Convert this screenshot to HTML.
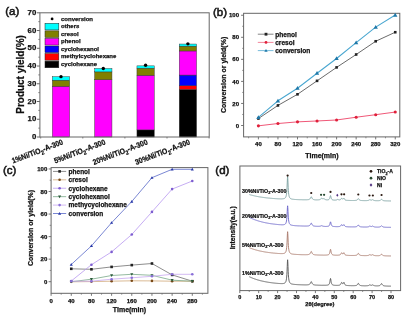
<!DOCTYPE html>
<html><head><meta charset="utf-8"><style>
html,body{margin:0;padding:0;background:#fff;}
svg{display:block;font-family:"Liberation Sans", sans-serif;filter:blur(0.4px);}
text{stroke:#111;stroke-width:0.25px;}
</style></head><body>
<svg width="408" height="317" viewBox="0 0 408 317">
<rect width="408" height="317" fill="#fff"/>
<text x="5.20" y="15.40" font-size="11.5" font-weight="normal" text-anchor="start" fill="#222" style="stroke-width:0.55px">(a)</text>
<rect x="52.35" y="86.26" width="17.30" height="50.74" fill="#f0f" stroke="#333" stroke-width="0.45"/>
<rect x="52.35" y="80.22" width="17.30" height="6.03" fill="#808000" stroke="#333" stroke-width="0.45"/>
<rect x="52.35" y="76.67" width="17.30" height="3.55" fill="#0ff" stroke="#333" stroke-width="0.45"/>
<circle cx="61.00" cy="76.67" r="1.7" fill="#000"/>
<rect x="94.65" y="79.69" width="17.30" height="57.31" fill="#f0f" stroke="#333" stroke-width="0.45"/>
<rect x="94.65" y="71.88" width="17.30" height="7.81" fill="#808000" stroke="#333" stroke-width="0.45"/>
<rect x="94.65" y="68.51" width="17.30" height="3.37" fill="#0ff" stroke="#333" stroke-width="0.45"/>
<circle cx="103.30" cy="68.51" r="1.7" fill="#000"/>
<rect x="136.95" y="129.90" width="17.30" height="7.10" fill="#000" stroke="#333" stroke-width="0.45"/>
<rect x="136.95" y="75.25" width="17.30" height="54.65" fill="#f0f" stroke="#333" stroke-width="0.45"/>
<rect x="136.95" y="68.16" width="17.30" height="7.10" fill="#808000" stroke="#333" stroke-width="0.45"/>
<rect x="136.95" y="65.85" width="17.30" height="2.31" fill="#0ff" stroke="#333" stroke-width="0.45"/>
<circle cx="145.60" cy="65.32" r="1.7" fill="#000"/>
<rect x="179.25" y="89.45" width="17.30" height="47.55" fill="#000" stroke="#333" stroke-width="0.45"/>
<rect x="179.25" y="85.72" width="17.30" height="3.73" fill="#f00" stroke="#333" stroke-width="0.45"/>
<rect x="179.25" y="75.08" width="17.30" height="10.65" fill="#00f" stroke="#333" stroke-width="0.45"/>
<rect x="179.25" y="50.95" width="17.30" height="24.13" fill="#f0f" stroke="#333" stroke-width="0.45"/>
<rect x="179.25" y="46.16" width="17.30" height="4.79" fill="#808000" stroke="#333" stroke-width="0.45"/>
<rect x="179.25" y="44.03" width="17.30" height="2.13" fill="#0ff" stroke="#333" stroke-width="0.45"/>
<circle cx="187.90" cy="43.85" r="1.7" fill="#000"/>
<rect x="39.9" y="12.8" width="169.29999999999998" height="124.2" fill="none" stroke="#666" stroke-width="1"/>
<line x1="36.90" y1="137.00" x2="39.90" y2="137.00" stroke="#666" stroke-width="1"/>
<text x="36.30" y="139.20" font-size="7.8" font-weight="bold" text-anchor="end" fill="#111" >0</text>
<line x1="36.90" y1="119.26" x2="39.90" y2="119.26" stroke="#666" stroke-width="1"/>
<text x="36.30" y="121.46" font-size="7.8" font-weight="bold" text-anchor="end" fill="#111" >10</text>
<line x1="36.90" y1="101.51" x2="39.90" y2="101.51" stroke="#666" stroke-width="1"/>
<text x="36.30" y="103.71" font-size="7.8" font-weight="bold" text-anchor="end" fill="#111" >20</text>
<line x1="36.90" y1="83.77" x2="39.90" y2="83.77" stroke="#666" stroke-width="1"/>
<text x="36.30" y="85.97" font-size="7.8" font-weight="bold" text-anchor="end" fill="#111" >30</text>
<line x1="36.90" y1="66.03" x2="39.90" y2="66.03" stroke="#666" stroke-width="1"/>
<text x="36.30" y="68.23" font-size="7.8" font-weight="bold" text-anchor="end" fill="#111" >40</text>
<line x1="36.90" y1="48.29" x2="39.90" y2="48.29" stroke="#666" stroke-width="1"/>
<text x="36.30" y="50.49" font-size="7.8" font-weight="bold" text-anchor="end" fill="#111" >50</text>
<line x1="36.90" y1="30.54" x2="39.90" y2="30.54" stroke="#666" stroke-width="1"/>
<text x="36.30" y="32.74" font-size="7.8" font-weight="bold" text-anchor="end" fill="#111" >60</text>
<line x1="36.90" y1="12.80" x2="39.90" y2="12.80" stroke="#666" stroke-width="1"/>
<text x="36.30" y="15.00" font-size="7.8" font-weight="bold" text-anchor="end" fill="#111" >70</text>
<line x1="38.30" y1="128.13" x2="39.90" y2="128.13" stroke="#666" stroke-width="0.8"/>
<line x1="38.30" y1="110.39" x2="39.90" y2="110.39" stroke="#666" stroke-width="0.8"/>
<line x1="38.30" y1="92.64" x2="39.90" y2="92.64" stroke="#666" stroke-width="0.8"/>
<line x1="38.30" y1="74.90" x2="39.90" y2="74.90" stroke="#666" stroke-width="0.8"/>
<line x1="38.30" y1="57.16" x2="39.90" y2="57.16" stroke="#666" stroke-width="0.8"/>
<line x1="38.30" y1="39.41" x2="39.90" y2="39.41" stroke="#666" stroke-width="0.8"/>
<line x1="38.30" y1="21.67" x2="39.90" y2="21.67" stroke="#666" stroke-width="0.8"/>
<line x1="40.70" y1="137.00" x2="40.70" y2="138.50" stroke="#666" stroke-width="0.8"/>
<line x1="82.80" y1="137.00" x2="82.80" y2="138.50" stroke="#666" stroke-width="0.8"/>
<line x1="124.90" y1="137.00" x2="124.90" y2="138.50" stroke="#666" stroke-width="0.8"/>
<line x1="167.00" y1="137.00" x2="167.00" y2="138.50" stroke="#666" stroke-width="0.8"/>
<line x1="209.10" y1="137.00" x2="209.10" y2="138.50" stroke="#666" stroke-width="0.8"/>
<text transform="translate(24.1,74.4) rotate(-90) scale(0.95,1)" font-size="10.5" font-weight="bold" text-anchor="middle" fill="#111">Product yield(%)</text>
<text transform="translate(63.70,144.10) rotate(-21) scale(0.9,1)" font-size="7.7" font-weight="bold" text-anchor="end" fill="#111">1%Ni/TiO<tspan font-size="6.0" dy="2.3">2</tspan><tspan dy="-2.3">-A-300</tspan></text>
<text transform="translate(106.00,144.10) rotate(-21) scale(0.9,1)" font-size="7.7" font-weight="bold" text-anchor="end" fill="#111">5%Ni/TiO<tspan font-size="6.0" dy="2.3">2</tspan><tspan dy="-2.3">-A-300</tspan></text>
<text transform="translate(148.30,144.10) rotate(-21) scale(0.9,1)" font-size="7.7" font-weight="bold" text-anchor="end" fill="#111">20%Ni/TiO<tspan font-size="6.0" dy="2.3">2</tspan><tspan dy="-2.3">-A-300</tspan></text>
<text transform="translate(190.60,144.10) rotate(-21) scale(0.9,1)" font-size="7.7" font-weight="bold" text-anchor="end" fill="#111">30%Ni/TiO<tspan font-size="6.0" dy="2.3">2</tspan><tspan dy="-2.3">-A-300</tspan></text>
<text x="61.00" y="20.60" font-size="6.0" font-weight="bold" text-anchor="start" fill="#111" >conversion</text>
<circle cx="52.1" cy="18.9" r="1.4" fill="#000"/>
<rect x="45.00" y="23.30" width="13.80" height="6.60" fill="#0ff" stroke="#222" stroke-width="0.5"/>
<text x="61.00" y="28.20" font-size="6.0" font-weight="bold" text-anchor="start" fill="#111" >others</text>
<rect x="45.00" y="30.87" width="13.80" height="6.60" fill="#808000" stroke="#222" stroke-width="0.5"/>
<text x="61.00" y="35.77" font-size="6.0" font-weight="bold" text-anchor="start" fill="#111" >cresol</text>
<rect x="45.00" y="38.44" width="13.80" height="6.60" fill="#f0f" stroke="#222" stroke-width="0.5"/>
<text x="61.00" y="43.34" font-size="6.0" font-weight="bold" text-anchor="start" fill="#111" >phenol</text>
<rect x="45.00" y="46.01" width="13.80" height="6.60" fill="#00f" stroke="#222" stroke-width="0.5"/>
<text x="61.00" y="50.91" font-size="6.0" font-weight="bold" text-anchor="start" fill="#111" >cyclohexanol</text>
<rect x="45.00" y="53.58" width="13.80" height="6.60" fill="#f00" stroke="#222" stroke-width="0.5"/>
<text x="61.00" y="58.48" font-size="6.0" font-weight="bold" text-anchor="start" fill="#111" >methylcyclohexane</text>
<rect x="45.00" y="61.15" width="13.80" height="6.60" fill="#000" stroke="#222" stroke-width="0.5"/>
<text x="61.00" y="66.05" font-size="6.0" font-weight="bold" text-anchor="start" fill="#111" >cyclohexane</text>
<text x="213.00" y="15.90" font-size="11.5" font-weight="normal" text-anchor="start" fill="#222" style="stroke-width:0.55px">(b)</text>
<rect x="243.6" y="13.3" width="156.20000000000002" height="123.60000000000001" fill="none" stroke="#666" stroke-width="1"/>
<line x1="241.10" y1="125.50" x2="243.60" y2="125.50" stroke="#666" stroke-width="0.9"/>
<text x="239.00" y="127.60" font-size="6.0" font-weight="bold" text-anchor="end" fill="#111" >0</text>
<line x1="241.10" y1="103.45" x2="243.60" y2="103.45" stroke="#666" stroke-width="0.9"/>
<text x="239.00" y="105.55" font-size="6.0" font-weight="bold" text-anchor="end" fill="#111" >20</text>
<line x1="241.10" y1="81.40" x2="243.60" y2="81.40" stroke="#666" stroke-width="0.9"/>
<text x="239.00" y="83.50" font-size="6.0" font-weight="bold" text-anchor="end" fill="#111" >40</text>
<line x1="241.10" y1="59.35" x2="243.60" y2="59.35" stroke="#666" stroke-width="0.9"/>
<text x="239.00" y="61.45" font-size="6.0" font-weight="bold" text-anchor="end" fill="#111" >60</text>
<line x1="241.10" y1="37.30" x2="243.60" y2="37.30" stroke="#666" stroke-width="0.9"/>
<text x="239.00" y="39.40" font-size="6.0" font-weight="bold" text-anchor="end" fill="#111" >80</text>
<line x1="241.10" y1="15.25" x2="243.60" y2="15.25" stroke="#666" stroke-width="0.9"/>
<text x="239.00" y="17.35" font-size="6.0" font-weight="bold" text-anchor="end" fill="#111" >100</text>
<line x1="242.20" y1="114.47" x2="243.60" y2="114.47" stroke="#666" stroke-width="0.7"/>
<line x1="242.20" y1="92.42" x2="243.60" y2="92.42" stroke="#666" stroke-width="0.7"/>
<line x1="242.20" y1="70.38" x2="243.60" y2="70.38" stroke="#666" stroke-width="0.7"/>
<line x1="242.20" y1="48.33" x2="243.60" y2="48.33" stroke="#666" stroke-width="0.7"/>
<line x1="242.20" y1="26.28" x2="243.60" y2="26.28" stroke="#666" stroke-width="0.7"/>
<line x1="258.40" y1="136.90" x2="258.40" y2="139.40" stroke="#666" stroke-width="0.9"/>
<text x="258.40" y="146.30" font-size="6.0" font-weight="bold" text-anchor="middle" fill="#111" >40</text>
<line x1="277.95" y1="136.90" x2="277.95" y2="139.40" stroke="#666" stroke-width="0.9"/>
<text x="277.95" y="146.30" font-size="6.0" font-weight="bold" text-anchor="middle" fill="#111" >80</text>
<line x1="297.50" y1="136.90" x2="297.50" y2="139.40" stroke="#666" stroke-width="0.9"/>
<text x="297.50" y="146.30" font-size="6.0" font-weight="bold" text-anchor="middle" fill="#111" >120</text>
<line x1="317.05" y1="136.90" x2="317.05" y2="139.40" stroke="#666" stroke-width="0.9"/>
<text x="317.05" y="146.30" font-size="6.0" font-weight="bold" text-anchor="middle" fill="#111" >160</text>
<line x1="336.60" y1="136.90" x2="336.60" y2="139.40" stroke="#666" stroke-width="0.9"/>
<text x="336.60" y="146.30" font-size="6.0" font-weight="bold" text-anchor="middle" fill="#111" >200</text>
<line x1="356.15" y1="136.90" x2="356.15" y2="139.40" stroke="#666" stroke-width="0.9"/>
<text x="356.15" y="146.30" font-size="6.0" font-weight="bold" text-anchor="middle" fill="#111" >240</text>
<line x1="375.70" y1="136.90" x2="375.70" y2="139.40" stroke="#666" stroke-width="0.9"/>
<text x="375.70" y="146.30" font-size="6.0" font-weight="bold" text-anchor="middle" fill="#111" >280</text>
<line x1="395.25" y1="136.90" x2="395.25" y2="139.40" stroke="#666" stroke-width="0.9"/>
<text x="395.25" y="146.30" font-size="6.0" font-weight="bold" text-anchor="middle" fill="#111" >320</text>
<line x1="248.62" y1="136.90" x2="248.62" y2="138.30" stroke="#666" stroke-width="0.7"/>
<line x1="268.17" y1="136.90" x2="268.17" y2="138.30" stroke="#666" stroke-width="0.7"/>
<line x1="287.72" y1="136.90" x2="287.72" y2="138.30" stroke="#666" stroke-width="0.7"/>
<line x1="307.27" y1="136.90" x2="307.27" y2="138.30" stroke="#666" stroke-width="0.7"/>
<line x1="326.82" y1="136.90" x2="326.82" y2="138.30" stroke="#666" stroke-width="0.7"/>
<line x1="346.38" y1="136.90" x2="346.38" y2="138.30" stroke="#666" stroke-width="0.7"/>
<line x1="365.92" y1="136.90" x2="365.92" y2="138.30" stroke="#666" stroke-width="0.7"/>
<line x1="385.47" y1="136.90" x2="385.47" y2="138.30" stroke="#666" stroke-width="0.7"/>
<text x="322.00" y="157.80" font-size="7.0" font-weight="bold" text-anchor="middle" fill="#111" >Time(min)</text>
<text transform="translate(225.8,74.9) rotate(-90)" font-size="7.0" font-weight="bold" text-anchor="middle" fill="#111">Conversion or yield(%)</text>
<polyline points="258.40,125.83 277.95,123.52 297.50,121.86 317.05,120.98 336.60,119.99 356.15,117.23 375.70,114.70 395.25,112.05" fill="none" stroke="#f05878" stroke-width="1.0" stroke-linejoin="round"/>
<circle cx="258.40" cy="125.83" r="1.55" fill="#e0203a"/>
<circle cx="277.95" cy="123.52" r="1.55" fill="#e0203a"/>
<circle cx="297.50" cy="121.86" r="1.55" fill="#e0203a"/>
<circle cx="317.05" cy="120.98" r="1.55" fill="#e0203a"/>
<circle cx="336.60" cy="119.99" r="1.55" fill="#e0203a"/>
<circle cx="356.15" cy="117.23" r="1.55" fill="#e0203a"/>
<circle cx="375.70" cy="114.70" r="1.55" fill="#e0203a"/>
<circle cx="395.25" cy="112.05" r="1.55" fill="#e0203a"/>
<polyline points="258.40,118.55 277.95,105.43 297.50,94.30 317.05,80.85 336.60,67.40 356.15,54.50 375.70,41.27 395.25,32.23" fill="none" stroke="#5a5a5a" stroke-width="0.9" stroke-linejoin="round"/>
<rect x="257.10" y="117.25" width="2.60" height="2.60" fill="#222" stroke="none" stroke-width="0"/>
<rect x="276.65" y="104.13" width="2.60" height="2.60" fill="#222" stroke="none" stroke-width="0"/>
<rect x="296.20" y="93.00" width="2.60" height="2.60" fill="#222" stroke="none" stroke-width="0"/>
<rect x="315.75" y="79.55" width="2.60" height="2.60" fill="#222" stroke="none" stroke-width="0"/>
<rect x="335.30" y="66.10" width="2.60" height="2.60" fill="#222" stroke="none" stroke-width="0"/>
<rect x="354.85" y="53.20" width="2.60" height="2.60" fill="#222" stroke="none" stroke-width="0"/>
<rect x="374.40" y="39.97" width="2.60" height="2.60" fill="#222" stroke="none" stroke-width="0"/>
<rect x="393.95" y="30.93" width="2.60" height="2.60" fill="#222" stroke="none" stroke-width="0"/>
<polyline points="258.40,117.45 277.95,100.80 297.50,88.24 317.05,73.24 336.60,58.47 356.15,42.70 375.70,27.16 395.25,15.03" fill="none" stroke="#48a6d0" stroke-width="1.05" stroke-linejoin="round"/>
<polygon points="258.40,115.29 256.24,119.07 260.56,119.07" fill="#1f78a8"/>
<polygon points="277.95,98.64 275.79,102.42 280.11,102.42" fill="#1f78a8"/>
<polygon points="297.50,86.08 295.34,89.86 299.66,89.86" fill="#1f78a8"/>
<polygon points="317.05,71.08 314.89,74.86 319.21,74.86" fill="#1f78a8"/>
<polygon points="336.60,56.31 334.44,60.09 338.76,60.09" fill="#1f78a8"/>
<polygon points="356.15,40.54 353.99,44.32 358.31,44.32" fill="#1f78a8"/>
<polygon points="375.70,25.00 373.54,28.78 377.86,28.78" fill="#1f78a8"/>
<polygon points="395.25,12.87 393.09,16.65 397.41,16.65" fill="#1f78a8"/>
<line x1="257.80" y1="34.20" x2="273.50" y2="34.20" stroke="#777" stroke-width="0.9"/>
<rect x="264.60" y="32.80" width="2.80" height="2.80" fill="#222" stroke="none" stroke-width="0"/>
<text x="275.20" y="36.50" font-size="6.6" font-weight="bold" text-anchor="start" fill="#111" >phenol</text>
<line x1="257.80" y1="42.40" x2="273.50" y2="42.40" stroke="#f07890" stroke-width="0.9"/>
<circle cx="266.00" cy="42.40" r="1.4" fill="#e0203a"/>
<text x="275.20" y="44.70" font-size="6.6" font-weight="bold" text-anchor="start" fill="#111" >cresol</text>
<line x1="257.80" y1="50.60" x2="273.50" y2="50.60" stroke="#68b4d8" stroke-width="0.9"/>
<polygon points="266.00,48.92 264.32,51.86 267.68,51.86" fill="#1f78a8"/>
<text x="275.20" y="52.90" font-size="6.6" font-weight="bold" text-anchor="start" fill="#111" >conversion</text>
<text x="3.00" y="173.80" font-size="11.5" font-weight="normal" text-anchor="start" fill="#222" style="stroke-width:0.55px">(c)</text>
<rect x="51.1" y="167.6" width="156.8" height="125.70000000000002" fill="none" stroke="#666" stroke-width="1"/>
<line x1="48.60" y1="281.70" x2="51.10" y2="281.70" stroke="#666" stroke-width="0.9"/>
<text x="47.30" y="283.80" font-size="6.0" font-weight="bold" text-anchor="end" fill="#111" >0</text>
<line x1="48.60" y1="259.15" x2="51.10" y2="259.15" stroke="#666" stroke-width="0.9"/>
<text x="47.30" y="261.25" font-size="6.0" font-weight="bold" text-anchor="end" fill="#111" >20</text>
<line x1="48.60" y1="236.60" x2="51.10" y2="236.60" stroke="#666" stroke-width="0.9"/>
<text x="47.30" y="238.70" font-size="6.0" font-weight="bold" text-anchor="end" fill="#111" >40</text>
<line x1="48.60" y1="214.05" x2="51.10" y2="214.05" stroke="#666" stroke-width="0.9"/>
<text x="47.30" y="216.15" font-size="6.0" font-weight="bold" text-anchor="end" fill="#111" >60</text>
<line x1="48.60" y1="191.50" x2="51.10" y2="191.50" stroke="#666" stroke-width="0.9"/>
<text x="47.30" y="193.60" font-size="6.0" font-weight="bold" text-anchor="end" fill="#111" >80</text>
<line x1="48.60" y1="168.95" x2="51.10" y2="168.95" stroke="#666" stroke-width="0.9"/>
<text x="47.30" y="171.05" font-size="6.0" font-weight="bold" text-anchor="end" fill="#111" >100</text>
<line x1="49.70" y1="270.43" x2="51.10" y2="270.43" stroke="#666" stroke-width="0.7"/>
<line x1="49.70" y1="247.88" x2="51.10" y2="247.88" stroke="#666" stroke-width="0.7"/>
<line x1="49.70" y1="225.32" x2="51.10" y2="225.32" stroke="#666" stroke-width="0.7"/>
<line x1="49.70" y1="202.77" x2="51.10" y2="202.77" stroke="#666" stroke-width="0.7"/>
<line x1="49.70" y1="180.22" x2="51.10" y2="180.22" stroke="#666" stroke-width="0.7"/>
<line x1="51.10" y1="293.30" x2="51.10" y2="295.80" stroke="#666" stroke-width="0.9"/>
<text x="51.10" y="303.00" font-size="6.0" font-weight="bold" text-anchor="middle" fill="#111" >0</text>
<line x1="71.27" y1="293.30" x2="71.27" y2="295.80" stroke="#666" stroke-width="0.9"/>
<text x="71.27" y="303.00" font-size="6.0" font-weight="bold" text-anchor="middle" fill="#111" >40</text>
<line x1="91.44" y1="293.30" x2="91.44" y2="295.80" stroke="#666" stroke-width="0.9"/>
<text x="91.44" y="303.00" font-size="6.0" font-weight="bold" text-anchor="middle" fill="#111" >80</text>
<line x1="111.61" y1="293.30" x2="111.61" y2="295.80" stroke="#666" stroke-width="0.9"/>
<text x="111.61" y="303.00" font-size="6.0" font-weight="bold" text-anchor="middle" fill="#111" >120</text>
<line x1="131.78" y1="293.30" x2="131.78" y2="295.80" stroke="#666" stroke-width="0.9"/>
<text x="131.78" y="303.00" font-size="6.0" font-weight="bold" text-anchor="middle" fill="#111" >160</text>
<line x1="151.95" y1="293.30" x2="151.95" y2="295.80" stroke="#666" stroke-width="0.9"/>
<text x="151.95" y="303.00" font-size="6.0" font-weight="bold" text-anchor="middle" fill="#111" >200</text>
<line x1="172.12" y1="293.30" x2="172.12" y2="295.80" stroke="#666" stroke-width="0.9"/>
<text x="172.12" y="303.00" font-size="6.0" font-weight="bold" text-anchor="middle" fill="#111" >240</text>
<line x1="192.29" y1="293.30" x2="192.29" y2="295.80" stroke="#666" stroke-width="0.9"/>
<text x="192.29" y="303.00" font-size="6.0" font-weight="bold" text-anchor="middle" fill="#111" >280</text>
<line x1="61.19" y1="293.30" x2="61.19" y2="294.70" stroke="#666" stroke-width="0.7"/>
<line x1="81.36" y1="293.30" x2="81.36" y2="294.70" stroke="#666" stroke-width="0.7"/>
<line x1="101.53" y1="293.30" x2="101.53" y2="294.70" stroke="#666" stroke-width="0.7"/>
<line x1="121.69" y1="293.30" x2="121.69" y2="294.70" stroke="#666" stroke-width="0.7"/>
<line x1="141.87" y1="293.30" x2="141.87" y2="294.70" stroke="#666" stroke-width="0.7"/>
<line x1="162.04" y1="293.30" x2="162.04" y2="294.70" stroke="#666" stroke-width="0.7"/>
<line x1="182.21" y1="293.30" x2="182.21" y2="294.70" stroke="#666" stroke-width="0.7"/>
<line x1="202.38" y1="293.30" x2="202.38" y2="294.70" stroke="#666" stroke-width="0.7"/>
<text x="129.50" y="311.80" font-size="7.0" font-weight="bold" text-anchor="middle" fill="#111" >Time(min)</text>
<text transform="translate(32.9,228.0) rotate(-90)" font-size="7.0" font-weight="bold" text-anchor="middle" fill="#111">Conversion or yield(%)</text>
<polyline points="71.27,268.80 91.44,269.30 111.61,266.90 131.78,265.10 151.95,263.50 172.12,274.90 192.29,281.20" fill="none" stroke="#707070" stroke-width="0.8" stroke-linejoin="round"/>
<rect x="69.97" y="267.50" width="2.60" height="2.60" fill="#222" stroke="none" stroke-width="0"/>
<rect x="90.14" y="268.00" width="2.60" height="2.60" fill="#222" stroke="none" stroke-width="0"/>
<rect x="110.31" y="265.60" width="2.60" height="2.60" fill="#222" stroke="none" stroke-width="0"/>
<rect x="130.48" y="263.80" width="2.60" height="2.60" fill="#222" stroke="none" stroke-width="0"/>
<rect x="150.65" y="262.20" width="2.60" height="2.60" fill="#222" stroke="none" stroke-width="0"/>
<rect x="170.82" y="273.60" width="2.60" height="2.60" fill="#222" stroke="none" stroke-width="0"/>
<rect x="190.99" y="279.90" width="2.60" height="2.60" fill="#222" stroke="none" stroke-width="0"/>
<polyline points="71.27,281.80 91.44,281.60 111.61,281.20 131.78,280.80 151.95,280.90 172.12,281.20 192.29,281.30" fill="none" stroke="#d0a878" stroke-width="0.8" stroke-linejoin="round"/>
<circle cx="71.27" cy="281.80" r="1.3" fill="#7a4a18"/>
<circle cx="91.44" cy="281.60" r="1.3" fill="#7a4a18"/>
<circle cx="111.61" cy="281.20" r="1.3" fill="#7a4a18"/>
<circle cx="131.78" cy="280.80" r="1.3" fill="#7a4a18"/>
<circle cx="151.95" cy="280.90" r="1.3" fill="#7a4a18"/>
<circle cx="172.12" cy="281.20" r="1.3" fill="#7a4a18"/>
<circle cx="192.29" cy="281.30" r="1.3" fill="#7a4a18"/>
<polyline points="71.27,281.00 91.44,264.70 111.61,251.90 131.78,234.50 151.95,211.90 172.12,189.10 192.29,181.00" fill="none" stroke="#b898f0" stroke-width="0.8" stroke-linejoin="round"/>
<circle cx="71.27" cy="281.00" r="1.3" fill="#7d5dd0"/>
<circle cx="91.44" cy="264.70" r="1.3" fill="#7d5dd0"/>
<circle cx="111.61" cy="251.90" r="1.3" fill="#7d5dd0"/>
<circle cx="131.78" cy="234.50" r="1.3" fill="#7d5dd0"/>
<circle cx="151.95" cy="211.90" r="1.3" fill="#7d5dd0"/>
<circle cx="172.12" cy="189.10" r="1.3" fill="#7d5dd0"/>
<circle cx="192.29" cy="181.00" r="1.3" fill="#7d5dd0"/>
<polyline points="71.27,281.80 91.44,279.20 111.61,275.50 131.78,274.30 151.95,275.30 172.12,280.20 192.29,281.20" fill="none" stroke="#78a888" stroke-width="0.8" stroke-linejoin="round"/>
<polygon points="71.27,283.36 69.71,280.63 72.83,280.63" fill="#2a5a3a"/>
<polygon points="91.44,280.76 89.88,278.03 93.00,278.03" fill="#2a5a3a"/>
<polygon points="111.61,277.06 110.05,274.33 113.17,274.33" fill="#2a5a3a"/>
<polygon points="131.78,275.86 130.22,273.13 133.34,273.13" fill="#2a5a3a"/>
<polygon points="151.95,276.86 150.39,274.13 153.51,274.13" fill="#2a5a3a"/>
<polygon points="172.12,281.76 170.56,279.03 173.68,279.03" fill="#2a5a3a"/>
<polygon points="192.29,282.76 190.73,280.03 193.85,280.03" fill="#2a5a3a"/>
<polyline points="71.27,281.20 91.44,281.20 111.61,279.20 131.78,277.80 151.95,276.30 172.12,274.30 192.29,274.30" fill="none" stroke="#c8a8f0" stroke-width="0.8" stroke-linejoin="round"/>
<circle cx="71.27" cy="281.20" r="1.3" fill="#8a70d8"/>
<circle cx="91.44" cy="281.20" r="1.3" fill="#8a70d8"/>
<circle cx="111.61" cy="279.20" r="1.3" fill="#8a70d8"/>
<circle cx="131.78" cy="277.80" r="1.3" fill="#8a70d8"/>
<circle cx="151.95" cy="276.30" r="1.3" fill="#8a70d8"/>
<circle cx="172.12" cy="274.30" r="1.3" fill="#8a70d8"/>
<circle cx="192.29" cy="274.30" r="1.3" fill="#8a70d8"/>
<polyline points="71.27,264.50 91.44,245.90 111.61,222.70 131.78,201.50 151.95,177.70 172.12,169.30 192.29,169.30" fill="none" stroke="#5868c8" stroke-width="0.8" stroke-linejoin="round"/>
<polygon points="71.27,262.94 69.71,265.67 72.83,265.67" fill="#2838a8"/>
<polygon points="91.44,244.34 89.88,247.07 93.00,247.07" fill="#2838a8"/>
<polygon points="111.61,221.14 110.05,223.87 113.17,223.87" fill="#2838a8"/>
<polygon points="131.78,199.94 130.22,202.67 133.34,202.67" fill="#2838a8"/>
<polygon points="151.95,176.14 150.39,178.87 153.51,178.87" fill="#2838a8"/>
<polygon points="172.12,167.74 170.56,170.47 173.68,170.47" fill="#2838a8"/>
<polygon points="192.29,167.74 190.73,170.47 193.85,170.47" fill="#2838a8"/>
<line x1="53.00" y1="171.40" x2="66.20" y2="171.40" stroke="#707070" stroke-width="0.8"/>
<rect x="58.30" y="170.10" width="2.60" height="2.60" fill="#222" stroke="none" stroke-width="0"/>
<text x="68.60" y="173.70" font-size="6.5" font-weight="bold" text-anchor="start" fill="#111" >phenol</text>
<line x1="53.00" y1="179.82" x2="66.20" y2="179.82" stroke="#d0a878" stroke-width="0.8"/>
<circle cx="59.60" cy="179.82" r="1.3" fill="#7a4a18"/>
<text x="68.60" y="182.12" font-size="6.5" font-weight="bold" text-anchor="start" fill="#111" >cresol</text>
<line x1="53.00" y1="188.24" x2="66.20" y2="188.24" stroke="#b898f0" stroke-width="0.8"/>
<circle cx="59.60" cy="188.24" r="1.3" fill="#7d5dd0"/>
<text x="68.60" y="190.54" font-size="6.5" font-weight="bold" text-anchor="start" fill="#111" >cyclohexane</text>
<line x1="53.00" y1="196.66" x2="66.20" y2="196.66" stroke="#78a888" stroke-width="0.8"/>
<polygon points="59.60,198.22 58.04,195.49 61.16,195.49" fill="#2a5a3a"/>
<text x="68.60" y="198.96" font-size="6.5" font-weight="bold" text-anchor="start" fill="#111" >cyclohexanol</text>
<line x1="53.00" y1="205.08" x2="66.20" y2="205.08" stroke="#c8a8f0" stroke-width="0.8"/>
<circle cx="59.60" cy="205.08" r="1.3" fill="#8a70d8"/>
<text x="68.60" y="207.38" font-size="6.5" font-weight="bold" text-anchor="start" fill="#111" >methycyclohexane</text>
<line x1="53.00" y1="213.50" x2="66.20" y2="213.50" stroke="#5868c8" stroke-width="0.8"/>
<polygon points="59.60,211.94 58.04,214.67 61.16,214.67" fill="#2838a8"/>
<text x="68.60" y="215.80" font-size="6.5" font-weight="bold" text-anchor="start" fill="#111" >conversion</text>
<text x="215.30" y="173.90" font-size="11.5" font-weight="normal" text-anchor="start" fill="#222" style="stroke-width:0.55px">(d)</text>
<rect x="239.9" y="166.0" width="160.70000000000002" height="124.60000000000002" fill="none" stroke="#666" stroke-width="1"/>
<line x1="239.80" y1="290.60" x2="239.80" y2="293.10" stroke="#666" stroke-width="0.9"/>
<text x="239.80" y="298.90" font-size="5.5" font-weight="bold" text-anchor="middle" fill="#111" >0</text>
<line x1="258.70" y1="290.60" x2="258.70" y2="293.10" stroke="#666" stroke-width="0.9"/>
<text x="258.70" y="298.90" font-size="5.5" font-weight="bold" text-anchor="middle" fill="#111" >10</text>
<line x1="277.60" y1="290.60" x2="277.60" y2="293.10" stroke="#666" stroke-width="0.9"/>
<text x="277.60" y="298.90" font-size="5.5" font-weight="bold" text-anchor="middle" fill="#111" >20</text>
<line x1="296.50" y1="290.60" x2="296.50" y2="293.10" stroke="#666" stroke-width="0.9"/>
<text x="296.50" y="298.90" font-size="5.5" font-weight="bold" text-anchor="middle" fill="#111" >30</text>
<line x1="315.40" y1="290.60" x2="315.40" y2="293.10" stroke="#666" stroke-width="0.9"/>
<text x="315.40" y="298.90" font-size="5.5" font-weight="bold" text-anchor="middle" fill="#111" >40</text>
<line x1="334.30" y1="290.60" x2="334.30" y2="293.10" stroke="#666" stroke-width="0.9"/>
<text x="334.30" y="298.90" font-size="5.5" font-weight="bold" text-anchor="middle" fill="#111" >50</text>
<line x1="353.20" y1="290.60" x2="353.20" y2="293.10" stroke="#666" stroke-width="0.9"/>
<text x="353.20" y="298.90" font-size="5.5" font-weight="bold" text-anchor="middle" fill="#111" >60</text>
<line x1="372.10" y1="290.60" x2="372.10" y2="293.10" stroke="#666" stroke-width="0.9"/>
<text x="372.10" y="298.90" font-size="5.5" font-weight="bold" text-anchor="middle" fill="#111" >70</text>
<line x1="391.00" y1="290.60" x2="391.00" y2="293.10" stroke="#666" stroke-width="0.9"/>
<text x="391.00" y="298.90" font-size="5.5" font-weight="bold" text-anchor="middle" fill="#111" >80</text>
<line x1="249.25" y1="290.60" x2="249.25" y2="292.00" stroke="#666" stroke-width="0.7"/>
<line x1="268.15" y1="290.60" x2="268.15" y2="292.00" stroke="#666" stroke-width="0.7"/>
<line x1="287.05" y1="290.60" x2="287.05" y2="292.00" stroke="#666" stroke-width="0.7"/>
<line x1="305.95" y1="290.60" x2="305.95" y2="292.00" stroke="#666" stroke-width="0.7"/>
<line x1="324.85" y1="290.60" x2="324.85" y2="292.00" stroke="#666" stroke-width="0.7"/>
<line x1="343.75" y1="290.60" x2="343.75" y2="292.00" stroke="#666" stroke-width="0.7"/>
<line x1="362.65" y1="290.60" x2="362.65" y2="292.00" stroke="#666" stroke-width="0.7"/>
<line x1="381.55" y1="290.60" x2="381.55" y2="292.00" stroke="#666" stroke-width="0.7"/>
<text x="319.80" y="306.20" font-size="5.8" font-weight="bold" text-anchor="middle" fill="#111" >2θ(degree)</text>
<text transform="translate(235.2,227.8) rotate(-90)" font-size="6.6" font-weight="bold" text-anchor="middle" fill="#111">Intensity(a.u.)</text>
<polyline points="249.25,194.49 249.44,194.55 249.63,194.61 249.82,194.66 250.01,194.72 250.19,194.77 250.38,194.83 250.57,194.88 250.76,194.93 250.95,194.99 251.14,195.04 251.33,195.09 251.52,195.14 251.71,195.19 251.90,195.24 252.09,195.29 252.27,195.34 252.46,195.39 252.65,195.43 252.84,195.48 253.03,195.53 253.22,195.57 253.41,195.62 253.60,195.66 253.79,195.71 253.97,195.75 254.16,195.80 254.35,195.84 254.54,195.88 254.73,195.92 254.92,195.97 255.11,196.01 255.30,196.05 255.49,196.09 255.68,196.13 255.86,196.17 256.05,196.21 256.24,196.25 256.43,196.29 256.62,196.32 256.81,196.36 257.00,196.40 257.19,196.44 257.38,196.47 257.57,196.51 257.75,196.54 257.94,196.58 258.13,196.62 258.32,196.65 258.51,196.68 258.70,196.72 258.89,196.75 259.08,196.78 259.27,196.82 259.46,196.85 259.64,196.88 259.83,196.91 260.02,196.95 260.21,196.98 260.40,197.01 260.59,197.04 260.78,197.07 260.97,197.10 261.16,197.13 261.35,197.16 261.53,197.19 261.72,197.21 261.91,197.24 262.10,197.27 262.29,197.30 262.48,197.33 262.67,197.35 262.86,197.38 263.05,197.41 263.24,197.43 263.42,197.46 263.61,197.48 263.80,197.51 263.99,197.54 264.18,197.56 264.37,197.59 264.56,197.61 264.75,197.63 264.94,197.66 265.13,197.68 265.31,197.70 265.50,197.73 265.69,197.75 265.88,197.77 266.07,197.80 266.26,197.82 266.45,197.84 266.64,197.86 266.83,197.88 267.02,197.90 267.20,197.93 267.39,197.95 267.58,197.97 267.77,197.99 267.96,198.01 268.15,198.03 268.34,198.05 268.53,198.07 268.72,198.09 268.91,198.11 269.09,198.12 269.28,198.14 269.47,198.16 269.66,198.18 269.85,198.20 270.04,198.22 270.23,198.23 270.42,198.25 270.61,198.27 270.80,198.28 270.98,198.30 271.17,198.32 271.36,198.33 271.55,198.35 271.74,198.37 271.93,198.38 272.12,198.40 272.31,198.41 272.50,198.43 272.69,198.44 272.88,198.46 273.06,198.47 273.25,198.49 273.44,198.50 273.63,198.52 273.82,198.53 274.01,198.55 274.20,198.56 274.39,198.57 274.58,198.59 274.76,198.60 274.95,198.61 275.14,198.62 275.33,198.64 275.52,198.65 275.71,198.66 275.90,198.67 276.09,198.68 276.28,198.69 276.47,198.71 276.66,198.72 276.84,198.73 277.03,198.74 277.22,198.75 277.41,198.76 277.60,198.77 277.79,198.78 277.98,198.78 278.17,198.79 278.36,198.80 278.55,198.81 278.73,198.82 278.92,198.82 279.11,198.83 279.30,198.84 279.49,198.84 279.68,198.85 279.87,198.85 280.06,198.86 280.25,198.86 280.44,198.86 280.62,198.86 280.81,198.87 281.00,198.87 281.19,198.87 281.38,198.86 281.57,198.86 281.76,198.86 281.95,198.85 282.14,198.84 282.33,198.83 282.51,198.82 282.70,198.81 282.89,198.79 283.08,198.77 283.27,198.74 283.46,198.71 283.65,198.68 283.84,198.63 284.03,198.58 284.22,198.52 284.40,198.45 284.59,198.36 284.78,198.26 284.97,198.12 285.16,197.96 285.35,197.76 285.54,197.50 285.73,197.17 285.92,196.74 286.11,196.16 286.29,195.37 286.48,194.27 286.67,192.71 286.86,190.44 287.05,187.21 287.24,182.96 287.43,178.59 287.62,176.57 287.81,178.61 288.00,182.99 288.18,187.26 288.37,190.50 288.56,192.78 288.75,194.37 288.94,195.48 289.13,196.29 289.32,196.88 289.51,197.33 289.70,197.67 289.89,197.94 290.07,198.16 290.26,198.34 290.45,198.49 290.64,198.61 290.83,198.71 291.02,198.80 291.21,198.88 291.40,198.94 291.59,199.00 291.78,199.05 291.96,199.10 292.15,199.14 292.34,199.18 292.53,199.21 292.72,199.24 292.91,199.27 293.10,199.29 293.29,199.32 293.48,199.34 293.67,199.36 293.85,199.38 294.04,199.40 294.23,199.41 294.42,199.43 294.61,199.44 294.80,199.46 294.99,199.47 295.18,199.49 295.37,199.50 295.56,199.51 295.74,199.52 295.93,199.53 296.12,199.54 296.31,199.55 296.50,199.56 296.69,199.57 296.88,199.58 297.07,199.59 297.26,199.60 297.45,199.60 297.63,199.61 297.82,199.62 298.01,199.63 298.20,199.64 298.39,199.64 298.58,199.65 298.77,199.66 298.96,199.66 299.15,199.67 299.34,199.67 299.52,199.68 299.71,199.69 299.90,199.69 300.09,199.70 300.28,199.70 300.47,199.71 300.66,199.71 300.85,199.72 301.04,199.72 301.23,199.73 301.41,199.73 301.60,199.74 301.79,199.74 301.98,199.75 302.17,199.75 302.36,199.75 302.55,199.76 302.74,199.76 302.93,199.76 303.12,199.77 303.30,199.77 303.49,199.77 303.68,199.77 303.87,199.78 304.06,199.78 304.25,199.78 304.44,199.78 304.63,199.78 304.82,199.78 305.01,199.78 305.19,199.78 305.38,199.78 305.57,199.78 305.76,199.78 305.95,199.78 306.14,199.77 306.33,199.77 306.52,199.77 306.71,199.76 306.90,199.75 307.08,199.74 307.27,199.73 307.46,199.72 307.65,199.70 307.84,199.69 308.03,199.66 308.22,199.64 308.41,199.61 308.60,199.57 308.79,199.52 308.97,199.46 309.16,199.39 309.35,199.30 309.54,199.19 309.73,199.05 309.92,198.87 310.11,198.64 310.30,198.36 310.49,198.01 310.68,197.61 310.86,197.21 311.05,196.89 311.24,196.77 311.43,196.90 311.62,197.22 311.81,197.63 312.00,198.03 312.19,198.38 312.38,198.67 312.57,198.91 312.75,199.09 312.94,199.24 313.13,199.35 313.32,199.45 313.51,199.52 313.70,199.58 313.89,199.64 314.08,199.68 314.27,199.72 314.46,199.75 314.64,199.77 314.83,199.79 315.02,199.81 315.21,199.83 315.40,199.84 315.59,199.85 315.78,199.86 315.97,199.87 316.16,199.88 316.35,199.88 316.53,199.89 316.72,199.89 316.91,199.89 317.10,199.89 317.29,199.89 317.48,199.88 317.67,199.88 317.86,199.87 318.05,199.86 318.24,199.85 318.42,199.83 318.61,199.82 318.80,199.79 318.99,199.77 319.18,199.73 319.37,199.69 319.56,199.65 319.75,199.59 319.94,199.51 320.13,199.43 320.31,199.32 320.50,199.19 320.69,199.03 320.88,198.86 321.07,198.67 321.26,198.49 321.45,198.36 321.64,198.29 321.83,198.30 322.02,198.37 322.20,198.48 322.39,198.59 322.58,198.68 322.77,198.74 322.96,198.75 323.15,198.73 323.34,198.69 323.53,198.64 323.72,198.61 323.91,198.62 324.09,198.70 324.28,198.82 324.47,198.96 324.66,199.12 324.85,199.26 325.04,199.38 325.23,199.49 325.42,199.57 325.61,199.64 325.80,199.70 325.98,199.75 326.17,199.78 326.36,199.81 326.55,199.84 326.74,199.85 326.93,199.86 327.12,199.87 327.31,199.87 327.50,199.86 327.69,199.85 327.87,199.83 328.06,199.80 328.25,199.76 328.44,199.71 328.63,199.64 328.82,199.54 329.01,199.41 329.20,199.23 329.39,198.99 329.58,198.64 329.76,198.15 329.95,197.49 330.14,196.66 330.33,195.86 330.52,195.51 330.71,195.87 330.90,196.68 331.09,197.51 331.28,198.19 331.47,198.68 331.65,199.04 331.84,199.30 332.03,199.48 332.22,199.62 332.41,199.73 332.60,199.81 332.79,199.88 332.98,199.93 333.17,199.97 333.36,200.00 333.54,200.03 333.73,200.05 333.92,200.07 334.11,200.08 334.30,200.09 334.49,200.10 334.68,200.11 334.87,200.11 335.06,200.11 335.25,200.10 335.43,200.09 335.62,200.08 335.81,200.06 336.00,200.04 336.19,200.01 336.38,199.96 336.57,199.91 336.76,199.84 336.95,199.75 337.14,199.65 337.32,199.55 337.51,199.46 337.70,199.43 337.89,199.46 338.08,199.53 338.27,199.62 338.46,199.71 338.65,199.78 338.84,199.84 339.03,199.88 339.21,199.90 339.40,199.90 339.59,199.89 339.78,199.86 339.97,199.82 340.16,199.75 340.35,199.65 340.54,199.52 340.73,199.35 340.92,199.13 341.10,198.86 341.29,198.57 341.48,198.32 341.67,198.22 341.86,198.29 342.05,198.50 342.24,198.74 342.43,198.96 342.62,199.11 342.81,199.18 342.99,199.17 343.18,199.07 343.37,198.87 343.56,198.58 343.75,198.29 343.94,198.18 344.13,198.37 344.32,198.74 344.51,199.12 344.70,199.43 344.88,199.66 345.07,199.82 345.26,199.95 345.45,200.04 345.64,200.11 345.83,200.16 346.02,200.21 346.21,200.24 346.40,200.27 346.59,200.30 346.77,200.32 346.96,200.33 347.15,200.35 347.34,200.36 347.53,200.38 347.72,200.39 347.91,200.40 348.10,200.41 348.29,200.41 348.48,200.42 348.66,200.43 348.85,200.43 349.04,200.44 349.23,200.45 349.42,200.45 349.61,200.45 349.80,200.46 349.99,200.46 350.18,200.47 350.37,200.47 350.55,200.47 350.74,200.48 350.93,200.48 351.12,200.48 351.31,200.48 351.50,200.49 351.69,200.49 351.88,200.49 352.07,200.49 352.26,200.49 352.44,200.49 352.63,200.49 352.82,200.49 353.01,200.49 353.20,200.49 353.39,200.49 353.58,200.49 353.77,200.49 353.96,200.48 354.15,200.48 354.33,200.48 354.52,200.47 354.71,200.46 354.90,200.45 355.09,200.44 355.28,200.43 355.47,200.41 355.66,200.39 355.85,200.37 356.04,200.34 356.22,200.30 356.41,200.25 356.60,200.19 356.79,200.11 356.98,200.01 357.17,199.88 357.36,199.71 357.55,199.49 357.74,199.22 357.93,198.94 358.11,198.70 358.30,198.61 358.49,198.71 358.68,198.95 358.87,199.23 359.06,199.50 359.25,199.73 359.44,199.90 359.63,200.04 359.82,200.15 360.00,200.23 360.19,200.30 360.38,200.35 360.57,200.39 360.76,200.42 360.95,200.45 361.14,200.47 361.33,200.50 361.52,200.51 361.71,200.53 361.89,200.54 362.08,200.55 362.27,200.56 362.46,200.57 362.65,200.58 362.84,200.58 363.03,200.59 363.22,200.59 363.41,200.60 363.60,200.60 363.78,200.61 363.97,200.61 364.16,200.61 364.35,200.62 364.54,200.62 364.73,200.62 364.92,200.62 365.11,200.62 365.30,200.62 365.49,200.62 365.67,200.62 365.86,200.61 366.05,200.61 366.24,200.61 366.43,200.60 366.62,200.60 366.81,200.59 367.00,200.58 367.19,200.57 367.38,200.55 367.56,200.53 367.75,200.51 367.94,200.48 368.13,200.44 368.32,200.40 368.51,200.34 368.70,200.27 368.89,200.17 369.08,200.06 369.27,199.93 369.45,199.80 369.64,199.69 369.83,199.64 370.02,199.67 370.21,199.76 370.40,199.87 370.59,199.97 370.78,200.05 370.97,200.11 371.16,200.14 371.34,200.14 371.53,200.11 371.72,200.06 371.91,199.98 372.10,199.88 372.29,199.78 372.48,199.69 372.67,199.67 372.86,199.72 373.05,199.83 373.23,199.97 373.42,200.10 373.61,200.22 373.80,200.32 373.99,200.39 374.18,200.46 374.37,200.51 374.56,200.55 374.75,200.58 374.94,200.60 375.12,200.63 375.31,200.64 375.50,200.66 375.69,200.67 375.88,200.68 376.07,200.69 376.26,200.70 376.45,200.70 376.64,200.71 376.83,200.71 377.01,200.71 377.20,200.72 377.39,200.72 377.58,200.71 377.77,200.71 377.96,200.71 378.15,200.70 378.34,200.70 378.53,200.69 378.72,200.67 378.90,200.66 379.09,200.64 379.28,200.61 379.47,200.58 379.66,200.54 379.85,200.49 380.04,200.43 380.23,200.34 380.42,200.24 380.61,200.11 380.79,199.95 380.98,199.76 381.17,199.57 381.36,199.43 381.55,199.37 381.74,199.43 381.93,199.58 382.12,199.78 382.31,199.97 382.50,200.14 382.68,200.27 382.87,200.38 383.06,200.47 383.25,200.54 383.44,200.60 383.63,200.64 383.82,200.68 384.01,200.71 384.20,200.74 384.38,200.76 384.57,200.78 384.76,200.80 384.95,200.81 385.14,200.82 385.33,200.83 385.52,200.84 385.71,200.85 385.90,200.86 386.09,200.87 386.27,200.88 386.46,200.88 386.65,200.89 386.84,200.89 387.03,200.90 387.22,200.90 387.41,200.91 387.60,200.91 387.79,200.92 387.98,200.92 388.16,200.93 388.35,200.93 388.54,200.93 388.73,200.94 388.92,200.94 389.11,200.94 389.30,200.95 389.49,200.95 389.68,200.95 389.87,200.96 390.05,200.96 390.24,200.96 390.43,200.97 390.62,200.97 390.81,200.97 391.00,200.97" fill="none" stroke="#7aa0a0" stroke-width="0.9" stroke-linejoin="round"/>
<text transform="translate(242.0,192.70) scale(0.885,1)" font-size="6.0" font-weight="bold" text-anchor="start" fill="#111">30%Ni/TiO<tspan font-size="4.3" dy="1.3">2</tspan><tspan dy="-1.3">-A-300</tspan></text>
<polyline points="249.25,217.29 249.44,217.39 249.63,217.49 249.82,217.58 250.01,217.67 250.19,217.77 250.38,217.86 250.57,217.95 250.76,218.04 250.95,218.13 251.14,218.22 251.33,218.30 251.52,218.39 251.71,218.48 251.90,218.56 252.09,218.64 252.27,218.72 252.46,218.81 252.65,218.89 252.84,218.97 253.03,219.05 253.22,219.12 253.41,219.20 253.60,219.28 253.79,219.35 253.97,219.43 254.16,219.50 254.35,219.57 254.54,219.65 254.73,219.72 254.92,219.79 255.11,219.86 255.30,219.93 255.49,220.00 255.68,220.06 255.86,220.13 256.05,220.20 256.24,220.26 256.43,220.33 256.62,220.39 256.81,220.46 257.00,220.52 257.19,220.58 257.38,220.64 257.57,220.70 257.75,220.76 257.94,220.82 258.13,220.88 258.32,220.94 258.51,221.00 258.70,221.05 258.89,221.11 259.08,221.17 259.27,221.22 259.46,221.28 259.64,221.33 259.83,221.38 260.02,221.44 260.21,221.49 260.40,221.54 260.59,221.59 260.78,221.64 260.97,221.69 261.16,221.74 261.35,221.79 261.53,221.84 261.72,221.89 261.91,221.94 262.10,221.98 262.29,222.03 262.48,222.07 262.67,222.12 262.86,222.17 263.05,222.21 263.24,222.25 263.42,222.30 263.61,222.34 263.80,222.38 263.99,222.43 264.18,222.47 264.37,222.51 264.56,222.55 264.75,222.59 264.94,222.63 265.13,222.67 265.31,222.71 265.50,222.75 265.69,222.79 265.88,222.82 266.07,222.86 266.26,222.90 266.45,222.93 266.64,222.97 266.83,223.01 267.02,223.04 267.20,223.08 267.39,223.11 267.58,223.15 267.77,223.18 267.96,223.21 268.15,223.25 268.34,223.28 268.53,223.31 268.72,223.34 268.91,223.38 269.09,223.41 269.28,223.44 269.47,223.47 269.66,223.50 269.85,223.53 270.04,223.56 270.23,223.59 270.42,223.62 270.61,223.65 270.80,223.68 270.98,223.70 271.17,223.73 271.36,223.76 271.55,223.79 271.74,223.81 271.93,223.84 272.12,223.87 272.31,223.89 272.50,223.92 272.69,223.94 272.88,223.97 273.06,223.99 273.25,224.02 273.44,224.04 273.63,224.07 273.82,224.09 274.01,224.11 274.20,224.14 274.39,224.16 274.58,224.18 274.76,224.20 274.95,224.23 275.14,224.25 275.33,224.27 275.52,224.29 275.71,224.31 275.90,224.33 276.09,224.35 276.28,224.37 276.47,224.39 276.66,224.41 276.84,224.43 277.03,224.45 277.22,224.46 277.41,224.48 277.60,224.50 277.79,224.52 277.98,224.53 278.17,224.55 278.36,224.57 278.55,224.58 278.73,224.60 278.92,224.61 279.11,224.63 279.30,224.64 279.49,224.65 279.68,224.67 279.87,224.68 280.06,224.69 280.25,224.70 280.44,224.71 280.62,224.72 280.81,224.73 281.00,224.74 281.19,224.74 281.38,224.75 281.57,224.76 281.76,224.76 281.95,224.76 282.14,224.76 282.33,224.76 282.51,224.76 282.70,224.75 282.89,224.74 283.08,224.73 283.27,224.72 283.46,224.70 283.65,224.67 283.84,224.64 284.03,224.61 284.22,224.56 284.40,224.51 284.59,224.44 284.78,224.35 284.97,224.24 285.16,224.11 285.35,223.94 285.54,223.73 285.73,223.45 285.92,223.08 286.11,222.59 286.29,221.92 286.48,220.98 286.67,219.64 286.86,217.70 287.05,214.93 287.24,211.28 287.43,207.53 287.62,205.80 287.81,207.55 288.00,211.33 288.18,215.00 288.37,217.79 288.56,219.76 288.75,221.12 288.94,222.09 289.13,222.78 289.32,223.30 289.51,223.69 289.70,223.99 289.89,224.23 290.07,224.42 290.26,224.58 290.45,224.71 290.64,224.82 290.83,224.91 291.02,224.99 291.21,225.06 291.40,225.12 291.59,225.18 291.78,225.23 291.96,225.27 292.15,225.31 292.34,225.34 292.53,225.38 292.72,225.41 292.91,225.44 293.10,225.46 293.29,225.49 293.48,225.51 293.67,225.53 293.85,225.55 294.04,225.57 294.23,225.59 294.42,225.61 294.61,225.62 294.80,225.64 294.99,225.65 295.18,225.67 295.37,225.68 295.56,225.69 295.74,225.71 295.93,225.72 296.12,225.73 296.31,225.74 296.50,225.76 296.69,225.77 296.88,225.78 297.07,225.79 297.26,225.80 297.45,225.81 297.63,225.82 297.82,225.83 298.01,225.84 298.20,225.85 298.39,225.86 298.58,225.87 298.77,225.87 298.96,225.88 299.15,225.89 299.34,225.90 299.52,225.91 299.71,225.91 299.90,225.92 300.09,225.93 300.28,225.94 300.47,225.94 300.66,225.95 300.85,225.96 301.04,225.96 301.23,225.97 301.41,225.98 301.60,225.98 301.79,225.99 301.98,226.00 302.17,226.00 302.36,226.01 302.55,226.01 302.74,226.02 302.93,226.02 303.12,226.03 303.30,226.03 303.49,226.04 303.68,226.04 303.87,226.04 304.06,226.05 304.25,226.05 304.44,226.05 304.63,226.06 304.82,226.06 305.01,226.06 305.19,226.06 305.38,226.06 305.57,226.06 305.76,226.06 305.95,226.06 306.14,226.06 306.33,226.06 306.52,226.06 306.71,226.05 306.90,226.04 307.08,226.04 307.27,226.03 307.46,226.02 307.65,226.00 307.84,225.99 308.03,225.97 308.22,225.94 308.41,225.91 308.60,225.87 308.79,225.83 308.97,225.77 309.16,225.70 309.35,225.61 309.54,225.50 309.73,225.37 309.92,225.19 310.11,224.96 310.30,224.68 310.49,224.33 310.68,223.93 310.86,223.53 311.05,223.22 311.24,223.10 311.43,223.23 311.62,223.55 311.81,223.96 312.00,224.36 312.19,224.72 312.38,225.01 312.57,225.25 312.75,225.43 312.94,225.58 313.13,225.70 313.32,225.79 313.51,225.87 313.70,225.94 313.89,225.99 314.08,226.04 314.27,226.07 314.46,226.11 314.64,226.14 314.83,226.16 315.02,226.18 315.21,226.20 315.40,226.22 315.59,226.23 315.78,226.25 315.97,226.26 316.16,226.27 316.35,226.28 316.53,226.29 316.72,226.29 316.91,226.30 317.10,226.31 317.29,226.31 317.48,226.31 317.67,226.32 317.86,226.32 318.05,226.32 318.24,226.32 318.42,226.31 318.61,226.31 318.80,226.30 318.99,226.30 319.18,226.28 319.37,226.27 319.56,226.25 319.75,226.23 319.94,226.20 320.13,226.16 320.31,226.11 320.50,226.06 320.69,225.99 320.88,225.91 321.07,225.83 321.26,225.75 321.45,225.70 321.64,225.68 321.83,225.70 322.02,225.76 322.20,225.85 322.39,225.94 322.58,226.02 322.77,226.09 322.96,226.16 323.15,226.21 323.34,226.25 323.53,226.29 323.72,226.32 323.91,226.34 324.09,226.36 324.28,226.38 324.47,226.39 324.66,226.41 324.85,226.42 325.04,226.42 325.23,226.43 325.42,226.43 325.61,226.44 325.80,226.44 325.98,226.44 326.17,226.44 326.36,226.43 326.55,226.43 326.74,226.42 326.93,226.41 327.12,226.40 327.31,226.38 327.50,226.36 327.69,226.34 327.87,226.31 328.06,226.27 328.25,226.23 328.44,226.16 328.63,226.09 328.82,225.98 329.01,225.85 329.20,225.66 329.39,225.41 329.58,225.05 329.76,224.55 329.95,223.87 330.14,223.02 330.33,222.20 330.52,221.84 330.71,222.21 330.90,223.03 331.09,223.88 331.28,224.57 331.47,225.08 331.65,225.44 331.84,225.70 332.03,225.89 332.22,226.04 332.41,226.15 332.60,226.23 332.79,226.30 332.98,226.35 333.17,226.40 333.36,226.43 333.54,226.46 333.73,226.49 333.92,226.51 334.11,226.53 334.30,226.54 334.49,226.56 334.68,226.57 334.87,226.58 335.06,226.59 335.25,226.60 335.43,226.61 335.62,226.61 335.81,226.62 336.00,226.62 336.19,226.62 336.38,226.63 336.57,226.63 336.76,226.63 336.95,226.63 337.14,226.63 337.32,226.63 337.51,226.63 337.70,226.62 337.89,226.62 338.08,226.61 338.27,226.60 338.46,226.59 338.65,226.58 338.84,226.56 339.03,226.54 339.21,226.51 339.40,226.48 339.59,226.44 339.78,226.39 339.97,226.32 340.16,226.24 340.35,226.14 340.54,226.00 340.73,225.82 340.92,225.59 341.10,225.31 341.29,225.01 341.48,224.76 341.67,224.65 341.86,224.72 342.05,224.92 342.24,225.17 342.43,225.38 342.62,225.53 342.81,225.60 342.99,225.58 343.18,225.48 343.37,225.28 343.56,224.99 343.75,224.70 343.94,224.59 344.13,224.78 344.32,225.15 344.51,225.53 344.70,225.84 344.88,226.06 345.07,226.23 345.26,226.35 345.45,226.44 345.64,226.51 345.83,226.57 346.02,226.61 346.21,226.64 346.40,226.67 346.59,226.70 346.77,226.72 346.96,226.74 347.15,226.75 347.34,226.76 347.53,226.78 347.72,226.79 347.91,226.80 348.10,226.81 348.29,226.81 348.48,226.82 348.66,226.83 348.85,226.83 349.04,226.84 349.23,226.84 349.42,226.85 349.61,226.85 349.80,226.86 349.99,226.86 350.18,226.87 350.37,226.87 350.55,226.87 350.74,226.88 350.93,226.88 351.12,226.88 351.31,226.88 351.50,226.88 351.69,226.89 351.88,226.89 352.07,226.89 352.26,226.89 352.44,226.89 352.63,226.89 352.82,226.89 353.01,226.89 353.20,226.89 353.39,226.89 353.58,226.89 353.77,226.88 353.96,226.88 354.15,226.88 354.33,226.87 354.52,226.87 354.71,226.86 354.90,226.85 355.09,226.84 355.28,226.83 355.47,226.81 355.66,226.79 355.85,226.77 356.04,226.74 356.22,226.70 356.41,226.65 356.60,226.59 356.79,226.51 356.98,226.41 357.17,226.28 357.36,226.10 357.55,225.88 357.74,225.62 357.93,225.34 358.11,225.10 358.30,225.01 358.49,225.11 358.68,225.34 358.87,225.63 359.06,225.90 359.25,226.13 359.44,226.30 359.63,226.44 359.82,226.55 360.00,226.63 360.19,226.69 360.38,226.75 360.57,226.79 360.76,226.82 360.95,226.85 361.14,226.87 361.33,226.89 361.52,226.91 361.71,226.93 361.89,226.94 362.08,226.95 362.27,226.96 362.46,226.97 362.65,226.97 362.84,226.98 363.03,226.99 363.22,226.99 363.41,227.00 363.60,227.00 363.78,227.01 363.97,227.01 364.16,227.01 364.35,227.01 364.54,227.02 364.73,227.02 364.92,227.02 365.11,227.02 365.30,227.02 365.49,227.02 365.67,227.02 365.86,227.01 366.05,227.01 366.24,227.01 366.43,227.00 366.62,226.99 366.81,226.99 367.00,226.98 367.19,226.97 367.38,226.95 367.56,226.93 367.75,226.91 367.94,226.88 368.13,226.84 368.32,226.80 368.51,226.74 368.70,226.66 368.89,226.57 369.08,226.46 369.27,226.33 369.45,226.20 369.64,226.09 369.83,226.04 370.02,226.07 370.21,226.15 370.40,226.26 370.59,226.37 370.78,226.45 370.97,226.51 371.16,226.54 371.34,226.54 371.53,226.51 371.72,226.46 371.91,226.38 372.10,226.28 372.29,226.18 372.48,226.09 372.67,226.07 372.86,226.12 373.05,226.23 373.23,226.37 373.42,226.50 373.61,226.62 373.80,226.72 373.99,226.79 374.18,226.85 374.37,226.90 374.56,226.94 374.75,226.98 374.94,227.00 375.12,227.02 375.31,227.04 375.50,227.06 375.69,227.07 375.88,227.08 376.07,227.09 376.26,227.10 376.45,227.10 376.64,227.11 376.83,227.11 377.01,227.11 377.20,227.12 377.39,227.12 377.58,227.11 377.77,227.11 377.96,227.11 378.15,227.10 378.34,227.09 378.53,227.09 378.72,227.07 378.90,227.06 379.09,227.04 379.28,227.01 379.47,226.98 379.66,226.94 379.85,226.89 380.04,226.83 380.23,226.74 380.42,226.64 380.61,226.51 380.79,226.35 380.98,226.16 381.17,225.97 381.36,225.83 381.55,225.77 381.74,225.83 381.93,225.98 382.12,226.18 382.31,226.37 382.50,226.54 382.68,226.67 382.87,226.78 383.06,226.87 383.25,226.94 383.44,227.00 383.63,227.04 383.82,227.08 384.01,227.11 384.20,227.14 384.38,227.16 384.57,227.18 384.76,227.20 384.95,227.21 385.14,227.22 385.33,227.23 385.52,227.24 385.71,227.25 385.90,227.26 386.09,227.27 386.27,227.28 386.46,227.28 386.65,227.29 386.84,227.29 387.03,227.30 387.22,227.30 387.41,227.31 387.60,227.31 387.79,227.32 387.98,227.32 388.16,227.33 388.35,227.33 388.54,227.33 388.73,227.34 388.92,227.34 389.11,227.34 389.30,227.35 389.49,227.35 389.68,227.35 389.87,227.36 390.05,227.36 390.24,227.36 390.43,227.37 390.62,227.37 390.81,227.37 391.00,227.37" fill="none" stroke="#6a64c8" stroke-width="0.9" stroke-linejoin="round"/>
<text transform="translate(242.0,217.70) scale(0.885,1)" font-size="6.0" font-weight="bold" text-anchor="start" fill="#111">20%Ni/TiO<tspan font-size="4.3" dy="1.3">2</tspan><tspan dy="-1.3">-A-300</tspan></text>
<polyline points="249.25,247.69 249.44,247.77 249.63,247.85 249.82,247.92 250.01,248.00 250.19,248.07 250.38,248.14 250.57,248.21 250.76,248.29 250.95,248.36 251.14,248.43 251.33,248.50 251.52,248.56 251.71,248.63 251.90,248.70 252.09,248.77 252.27,248.83 252.46,248.90 252.65,248.96 252.84,249.02 253.03,249.09 253.22,249.15 253.41,249.21 253.60,249.27 253.79,249.33 253.97,249.39 254.16,249.45 254.35,249.51 254.54,249.56 254.73,249.62 254.92,249.68 255.11,249.73 255.30,249.79 255.49,249.84 255.68,249.90 255.86,249.95 256.05,250.00 256.24,250.06 256.43,250.11 256.62,250.16 256.81,250.21 257.00,250.26 257.19,250.31 257.38,250.36 257.57,250.41 257.75,250.45 257.94,250.50 258.13,250.55 258.32,250.59 258.51,250.64 258.70,250.69 258.89,250.73 259.08,250.78 259.27,250.82 259.46,250.86 259.64,250.91 259.83,250.95 260.02,250.99 260.21,251.03 260.40,251.07 260.59,251.11 260.78,251.16 260.97,251.20 261.16,251.23 261.35,251.27 261.53,251.31 261.72,251.35 261.91,251.39 262.10,251.43 262.29,251.46 262.48,251.50 262.67,251.54 262.86,251.57 263.05,251.61 263.24,251.64 263.42,251.68 263.61,251.71 263.80,251.75 263.99,251.78 264.18,251.81 264.37,251.85 264.56,251.88 264.75,251.91 264.94,251.94 265.13,251.97 265.31,252.01 265.50,252.04 265.69,252.07 265.88,252.10 266.07,252.13 266.26,252.16 266.45,252.19 266.64,252.22 266.83,252.24 267.02,252.27 267.20,252.30 267.39,252.33 267.58,252.36 267.77,252.38 267.96,252.41 268.15,252.44 268.34,252.46 268.53,252.49 268.72,252.51 268.91,252.54 269.09,252.57 269.28,252.59 269.47,252.61 269.66,252.64 269.85,252.66 270.04,252.69 270.23,252.71 270.42,252.73 270.61,252.76 270.80,252.78 270.98,252.80 271.17,252.82 271.36,252.85 271.55,252.87 271.74,252.89 271.93,252.91 272.12,252.93 272.31,252.95 272.50,252.97 272.69,252.99 272.88,253.01 273.06,253.03 273.25,253.05 273.44,253.07 273.63,253.09 273.82,253.11 274.01,253.13 274.20,253.15 274.39,253.16 274.58,253.18 274.76,253.20 274.95,253.22 275.14,253.23 275.33,253.25 275.52,253.27 275.71,253.28 275.90,253.30 276.09,253.31 276.28,253.33 276.47,253.34 276.66,253.36 276.84,253.37 277.03,253.39 277.22,253.40 277.41,253.42 277.60,253.43 277.79,253.44 277.98,253.45 278.17,253.47 278.36,253.48 278.55,253.49 278.73,253.50 278.92,253.51 279.11,253.52 279.30,253.53 279.49,253.54 279.68,253.55 279.87,253.56 280.06,253.57 280.25,253.57 280.44,253.58 280.62,253.58 280.81,253.59 281.00,253.59 281.19,253.59 281.38,253.60 281.57,253.60 281.76,253.59 281.95,253.59 282.14,253.59 282.33,253.58 282.51,253.57 282.70,253.56 282.89,253.55 283.08,253.53 283.27,253.51 283.46,253.48 283.65,253.45 283.84,253.41 284.03,253.36 284.22,253.30 284.40,253.23 284.59,253.15 284.78,253.05 284.97,252.92 285.16,252.76 285.35,252.57 285.54,252.32 285.73,251.99 285.92,251.57 286.11,251.00 286.29,250.22 286.48,249.14 286.67,247.60 286.86,245.36 287.05,242.18 287.24,237.98 287.43,233.68 287.62,231.68 287.81,233.70 288.00,238.02 288.18,242.24 288.37,245.44 288.56,247.69 288.75,249.26 288.94,250.36 289.13,251.16 289.32,251.74 289.51,252.19 289.70,252.53 289.89,252.80 290.07,253.02 290.26,253.20 290.45,253.34 290.64,253.47 290.83,253.57 291.02,253.66 291.21,253.73 291.40,253.80 291.59,253.86 291.78,253.91 291.96,253.96 292.15,254.00 292.34,254.04 292.53,254.08 292.72,254.11 292.91,254.14 293.10,254.16 293.29,254.19 293.48,254.21 293.67,254.23 293.85,254.25 294.04,254.27 294.23,254.29 294.42,254.31 294.61,254.32 294.80,254.34 294.99,254.36 295.18,254.37 295.37,254.38 295.56,254.40 295.74,254.41 295.93,254.42 296.12,254.43 296.31,254.44 296.50,254.45 296.69,254.46 296.88,254.48 297.07,254.49 297.26,254.49 297.45,254.50 297.63,254.51 297.82,254.52 298.01,254.53 298.20,254.54 298.39,254.55 298.58,254.56 298.77,254.56 298.96,254.57 299.15,254.58 299.34,254.59 299.52,254.59 299.71,254.60 299.90,254.61 300.09,254.61 300.28,254.62 300.47,254.63 300.66,254.63 300.85,254.64 301.04,254.64 301.23,254.65 301.41,254.65 301.60,254.66 301.79,254.66 301.98,254.67 302.17,254.67 302.36,254.68 302.55,254.68 302.74,254.69 302.93,254.69 303.12,254.70 303.30,254.70 303.49,254.70 303.68,254.71 303.87,254.71 304.06,254.71 304.25,254.71 304.44,254.72 304.63,254.72 304.82,254.72 305.01,254.72 305.19,254.72 305.38,254.72 305.57,254.72 305.76,254.72 305.95,254.72 306.14,254.71 306.33,254.71 306.52,254.71 306.71,254.70 306.90,254.69 307.08,254.68 307.27,254.67 307.46,254.66 307.65,254.64 307.84,254.62 308.03,254.60 308.22,254.57 308.41,254.54 308.60,254.50 308.79,254.45 308.97,254.38 309.16,254.31 309.35,254.21 309.54,254.09 309.73,253.94 309.92,253.74 310.11,253.49 310.30,253.18 310.49,252.80 310.68,252.37 310.86,251.93 311.05,251.58 311.24,251.45 311.43,251.59 311.62,251.94 311.81,252.39 312.00,252.83 312.19,253.22 312.38,253.54 312.57,253.80 312.75,254.00 312.94,254.16 313.13,254.29 313.32,254.40 313.51,254.48 313.70,254.55 313.89,254.61 314.08,254.66 314.27,254.70 314.46,254.74 314.64,254.77 314.83,254.80 315.02,254.82 315.21,254.84 315.40,254.86 315.59,254.88 315.78,254.89 315.97,254.91 316.16,254.92 316.35,254.93 316.53,254.94 316.72,254.95 316.91,254.96 317.10,254.97 317.29,254.98 317.48,254.99 317.67,255.00 317.86,255.00 318.05,255.01 318.24,255.02 318.42,255.02 318.61,255.03 318.80,255.03 318.99,255.04 319.18,255.04 319.37,255.05 319.56,255.05 319.75,255.06 319.94,255.06 320.13,255.07 320.31,255.07 320.50,255.07 320.69,255.08 320.88,255.08 321.07,255.08 321.26,255.09 321.45,255.09 321.64,255.09 321.83,255.09 322.02,255.10 322.20,255.10 322.39,255.10 322.58,255.10 322.77,255.10 322.96,255.11 323.15,255.11 323.34,255.11 323.53,255.11 323.72,255.11 323.91,255.11 324.09,255.11 324.28,255.11 324.47,255.11 324.66,255.11 324.85,255.10 325.04,255.10 325.23,255.10 325.42,255.10 325.61,255.09 325.80,255.09 325.98,255.08 326.17,255.07 326.36,255.06 326.55,255.05 326.74,255.04 326.93,255.02 327.12,255.00 327.31,254.98 327.50,254.95 327.69,254.92 327.87,254.88 328.06,254.83 328.25,254.77 328.44,254.69 328.63,254.59 328.82,254.46 329.01,254.28 329.20,254.05 329.39,253.73 329.58,253.28 329.76,252.65 329.95,251.80 330.14,250.74 330.33,249.72 330.52,249.27 330.71,249.72 330.90,250.75 331.09,251.81 331.28,252.67 331.47,253.30 331.65,253.75 331.84,254.08 332.03,254.32 332.22,254.49 332.41,254.63 332.60,254.73 332.79,254.82 332.98,254.88 333.17,254.94 333.36,254.98 333.54,255.02 333.73,255.05 333.92,255.08 334.11,255.10 334.30,255.12 334.49,255.13 334.68,255.15 334.87,255.16 335.06,255.17 335.25,255.18 335.43,255.19 335.62,255.19 335.81,255.20 336.00,255.20 336.19,255.21 336.38,255.21 336.57,255.21 336.76,255.21 336.95,255.21 337.14,255.21 337.32,255.21 337.51,255.20 337.70,255.20 337.89,255.19 338.08,255.18 338.27,255.17 338.46,255.15 338.65,255.14 338.84,255.11 339.03,255.09 339.21,255.05 339.40,255.01 339.59,254.96 339.78,254.90 339.97,254.82 340.16,254.71 340.35,254.58 340.54,254.40 340.73,254.18 340.92,253.89 341.10,253.54 341.29,253.17 341.48,252.86 341.67,252.72 341.86,252.80 342.05,253.06 342.24,253.36 342.43,253.63 342.62,253.81 342.81,253.89 342.99,253.88 343.18,253.75 343.37,253.50 343.56,253.13 343.75,252.77 343.94,252.64 344.13,252.87 344.32,253.33 344.51,253.80 344.70,254.19 344.88,254.47 345.07,254.68 345.26,254.83 345.45,254.94 345.64,255.03 345.83,255.09 346.02,255.15 346.21,255.19 346.40,255.23 346.59,255.26 346.77,255.28 346.96,255.30 347.15,255.32 347.34,255.34 347.53,255.35 347.72,255.37 347.91,255.38 348.10,255.39 348.29,255.40 348.48,255.41 348.66,255.41 348.85,255.42 349.04,255.43 349.23,255.43 349.42,255.44 349.61,255.44 349.80,255.45 349.99,255.45 350.18,255.46 350.37,255.46 350.55,255.46 350.74,255.47 350.93,255.47 351.12,255.47 351.31,255.47 351.50,255.48 351.69,255.48 351.88,255.48 352.07,255.48 352.26,255.48 352.44,255.48 352.63,255.48 352.82,255.48 353.01,255.48 353.20,255.48 353.39,255.48 353.58,255.48 353.77,255.47 353.96,255.47 354.15,255.46 354.33,255.46 354.52,255.45 354.71,255.44 354.90,255.43 355.09,255.42 355.28,255.40 355.47,255.39 355.66,255.36 355.85,255.34 356.04,255.30 356.22,255.26 356.41,255.20 356.60,255.13 356.79,255.04 356.98,254.92 357.17,254.77 357.36,254.57 357.55,254.32 357.74,254.01 357.93,253.69 358.11,253.42 358.30,253.31 358.49,253.42 358.68,253.69 358.87,254.02 359.06,254.33 359.25,254.59 359.44,254.80 359.63,254.95 359.82,255.07 360.00,255.17 360.19,255.24 360.38,255.30 360.57,255.35 360.76,255.39 360.95,255.42 361.14,255.45 361.33,255.47 361.52,255.49 361.71,255.51 361.89,255.52 362.08,255.53 362.27,255.55 362.46,255.56 362.65,255.56 362.84,255.57 363.03,255.58 363.22,255.58 363.41,255.59 363.60,255.59 363.78,255.60 363.97,255.60 364.16,255.61 364.35,255.61 364.54,255.61 364.73,255.61 364.92,255.61 365.11,255.61 365.30,255.61 365.49,255.61 365.67,255.61 365.86,255.61 366.05,255.61 366.24,255.60 366.43,255.60 366.62,255.59 366.81,255.58 367.00,255.57 367.19,255.56 367.38,255.55 367.56,255.53 367.75,255.51 367.94,255.48 368.13,255.44 368.32,255.39 368.51,255.34 368.70,255.26 368.89,255.17 369.08,255.06 369.27,254.93 369.45,254.79 369.64,254.69 369.83,254.64 370.02,254.67 370.21,254.75 370.40,254.86 370.59,254.97 370.78,255.05 370.97,255.11 371.16,255.14 371.34,255.14 371.53,255.11 371.72,255.06 371.91,254.98 372.10,254.88 372.29,254.77 372.48,254.69 372.67,254.67 372.86,254.72 373.05,254.83 373.23,254.97 373.42,255.10 373.61,255.22 373.80,255.31 373.99,255.39 374.18,255.45 374.37,255.50 374.56,255.54 374.75,255.57 374.94,255.60 375.12,255.62 375.31,255.64 375.50,255.66 375.69,255.67 375.88,255.68 376.07,255.69 376.26,255.69 376.45,255.70 376.64,255.70 376.83,255.71 377.01,255.71 377.20,255.71 377.39,255.71 377.58,255.71 377.77,255.71 377.96,255.70 378.15,255.69 378.34,255.69 378.53,255.68 378.72,255.66 378.90,255.65 379.09,255.62 379.28,255.60 379.47,255.56 379.66,255.52 379.85,255.47 380.04,255.40 380.23,255.31 380.42,255.20 380.61,255.06 380.79,254.88 380.98,254.69 381.17,254.49 381.36,254.33 381.55,254.27 381.74,254.34 381.93,254.50 382.12,254.70 382.31,254.91 382.50,255.09 382.68,255.23 382.87,255.35 383.06,255.44 383.25,255.52 383.44,255.58 383.63,255.63 383.82,255.67 384.01,255.70 384.20,255.73 384.38,255.75 384.57,255.77 384.76,255.79 384.95,255.80 385.14,255.82 385.33,255.83 385.52,255.84 385.71,255.85 385.90,255.86 386.09,255.87 386.27,255.87 386.46,255.88 386.65,255.89 386.84,255.89 387.03,255.90 387.22,255.90 387.41,255.91 387.60,255.91 387.79,255.92 387.98,255.92 388.16,255.92 388.35,255.93 388.54,255.93 388.73,255.94 388.92,255.94 389.11,255.94 389.30,255.95 389.49,255.95 389.68,255.95 389.87,255.96 390.05,255.96 390.24,255.96 390.43,255.96 390.62,255.97 390.81,255.97 391.00,255.97" fill="none" stroke="#a8786a" stroke-width="0.9" stroke-linejoin="round"/>
<text transform="translate(242.0,247.10) scale(0.885,1)" font-size="6.0" font-weight="bold" text-anchor="start" fill="#111">5%Ni/TiO<tspan font-size="4.3" dy="1.3">2</tspan><tspan dy="-1.3">-A-300</tspan></text>
<polyline points="249.25,276.69 249.44,276.78 249.63,276.87 249.82,276.96 250.01,277.05 250.19,277.13 250.38,277.22 250.57,277.30 250.76,277.39 250.95,277.47 251.14,277.55 251.33,277.63 251.52,277.71 251.71,277.79 251.90,277.87 252.09,277.95 252.27,278.03 252.46,278.10 252.65,278.18 252.84,278.25 253.03,278.32 253.22,278.40 253.41,278.47 253.60,278.54 253.79,278.61 253.97,278.68 254.16,278.75 254.35,278.82 254.54,278.88 254.73,278.95 254.92,279.02 255.11,279.08 255.30,279.15 255.49,279.21 255.68,279.27 255.86,279.34 256.05,279.40 256.24,279.46 256.43,279.52 256.62,279.58 256.81,279.64 257.00,279.70 257.19,279.76 257.38,279.81 257.57,279.87 257.75,279.93 257.94,279.98 258.13,280.04 258.32,280.09 258.51,280.14 258.70,280.20 258.89,280.25 259.08,280.30 259.27,280.35 259.46,280.40 259.64,280.45 259.83,280.50 260.02,280.55 260.21,280.60 260.40,280.65 260.59,280.70 260.78,280.74 260.97,280.79 261.16,280.84 261.35,280.88 261.53,280.93 261.72,280.97 261.91,281.02 262.10,281.06 262.29,281.10 262.48,281.15 262.67,281.19 262.86,281.23 263.05,281.27 263.24,281.31 263.42,281.35 263.61,281.39 263.80,281.43 263.99,281.47 264.18,281.51 264.37,281.55 264.56,281.59 264.75,281.63 264.94,281.66 265.13,281.70 265.31,281.74 265.50,281.77 265.69,281.81 265.88,281.84 266.07,281.88 266.26,281.91 266.45,281.95 266.64,281.98 266.83,282.02 267.02,282.05 267.20,282.08 267.39,282.11 267.58,282.15 267.77,282.18 267.96,282.21 268.15,282.24 268.34,282.27 268.53,282.30 268.72,282.33 268.91,282.36 269.09,282.39 269.28,282.42 269.47,282.45 269.66,282.47 269.85,282.50 270.04,282.53 270.23,282.56 270.42,282.58 270.61,282.61 270.80,282.64 270.98,282.66 271.17,282.69 271.36,282.72 271.55,282.74 271.74,282.77 271.93,282.79 272.12,282.82 272.31,282.84 272.50,282.86 272.69,282.89 272.88,282.91 273.06,282.93 273.25,282.96 273.44,282.98 273.63,283.00 273.82,283.02 274.01,283.04 274.20,283.06 274.39,283.09 274.58,283.11 274.76,283.13 274.95,283.15 275.14,283.17 275.33,283.19 275.52,283.20 275.71,283.22 275.90,283.24 276.09,283.26 276.28,283.28 276.47,283.30 276.66,283.31 276.84,283.33 277.03,283.35 277.22,283.36 277.41,283.38 277.60,283.39 277.79,283.41 277.98,283.42 278.17,283.44 278.36,283.45 278.55,283.47 278.73,283.48 278.92,283.49 279.11,283.50 279.30,283.52 279.49,283.53 279.68,283.54 279.87,283.55 280.06,283.56 280.25,283.56 280.44,283.57 280.62,283.58 280.81,283.58 281.00,283.59 281.19,283.59 281.38,283.60 281.57,283.60 281.76,283.60 281.95,283.59 282.14,283.59 282.33,283.58 282.51,283.57 282.70,283.56 282.89,283.55 283.08,283.53 283.27,283.50 283.46,283.48 283.65,283.44 283.84,283.40 284.03,283.35 284.22,283.29 284.40,283.21 284.59,283.12 284.78,283.01 284.97,282.87 285.16,282.70 285.35,282.49 285.54,282.22 285.73,281.86 285.92,281.40 286.11,280.79 286.29,279.94 286.48,278.76 286.67,277.08 286.86,274.65 287.05,271.18 287.24,266.62 287.43,261.93 287.62,259.76 287.81,261.95 288.00,266.66 288.18,271.25 288.37,274.74 288.56,277.19 288.75,278.90 288.94,280.10 289.13,280.97 289.32,281.61 289.51,282.09 289.70,282.46 289.89,282.76 290.07,283.00 290.26,283.19 290.45,283.35 290.64,283.48 290.83,283.60 291.02,283.69 291.21,283.78 291.40,283.85 291.59,283.92 291.78,283.97 291.96,284.02 292.15,284.07 292.34,284.11 292.53,284.15 292.72,284.19 292.91,284.22 293.10,284.25 293.29,284.28 293.48,284.30 293.67,284.32 293.85,284.35 294.04,284.37 294.23,284.39 294.42,284.41 294.61,284.43 294.80,284.44 294.99,284.46 295.18,284.48 295.37,284.49 295.56,284.50 295.74,284.52 295.93,284.53 296.12,284.55 296.31,284.56 296.50,284.57 296.69,284.58 296.88,284.59 297.07,284.60 297.26,284.61 297.45,284.63 297.63,284.64 297.82,284.65 298.01,284.65 298.20,284.66 298.39,284.67 298.58,284.68 298.77,284.69 298.96,284.70 299.15,284.71 299.34,284.72 299.52,284.72 299.71,284.73 299.90,284.74 300.09,284.75 300.28,284.75 300.47,284.76 300.66,284.77 300.85,284.77 301.04,284.78 301.23,284.79 301.41,284.79 301.60,284.80 301.79,284.81 301.98,284.81 302.17,284.82 302.36,284.82 302.55,284.83 302.74,284.83 302.93,284.84 303.12,284.84 303.30,284.85 303.49,284.85 303.68,284.85 303.87,284.86 304.06,284.86 304.25,284.86 304.44,284.87 304.63,284.87 304.82,284.87 305.01,284.87 305.19,284.87 305.38,284.87 305.57,284.87 305.76,284.87 305.95,284.87 306.14,284.87 306.33,284.87 306.52,284.86 306.71,284.86 306.90,284.85 307.08,284.84 307.27,284.83 307.46,284.82 307.65,284.80 307.84,284.78 308.03,284.76 308.22,284.73 308.41,284.70 308.60,284.66 308.79,284.61 308.97,284.54 309.16,284.47 309.35,284.37 309.54,284.25 309.73,284.10 309.92,283.90 310.11,283.66 310.30,283.35 310.49,282.97 310.68,282.53 310.86,282.09 311.05,281.75 311.24,281.62 311.43,281.76 311.62,282.11 311.81,282.56 312.00,283.00 312.19,283.39 312.38,283.71 312.57,283.96 312.75,284.17 312.94,284.33 313.13,284.46 313.32,284.56 313.51,284.65 313.70,284.72 313.89,284.78 314.08,284.83 314.27,284.87 314.46,284.91 314.64,284.94 314.83,284.97 315.02,284.99 315.21,285.01 315.40,285.03 315.59,285.05 315.78,285.07 315.97,285.08 316.16,285.09 316.35,285.11 316.53,285.12 316.72,285.13 316.91,285.14 317.10,285.15 317.29,285.15 317.48,285.16 317.67,285.17 317.86,285.18 318.05,285.18 318.24,285.19 318.42,285.20 318.61,285.20 318.80,285.21 318.99,285.21 319.18,285.22 319.37,285.22 319.56,285.23 319.75,285.23 319.94,285.24 320.13,285.24 320.31,285.24 320.50,285.25 320.69,285.25 320.88,285.26 321.07,285.26 321.26,285.26 321.45,285.26 321.64,285.27 321.83,285.27 322.02,285.27 322.20,285.27 322.39,285.28 322.58,285.28 322.77,285.28 322.96,285.28 323.15,285.28 323.34,285.28 323.53,285.28 323.72,285.28 323.91,285.28 324.09,285.28 324.28,285.28 324.47,285.28 324.66,285.28 324.85,285.27 325.04,285.27 325.23,285.27 325.42,285.26 325.61,285.26 325.80,285.25 325.98,285.24 326.17,285.23 326.36,285.22 326.55,285.21 326.74,285.19 326.93,285.17 327.12,285.15 327.31,285.12 327.50,285.09 327.69,285.05 327.87,285.00 328.06,284.95 328.25,284.87 328.44,284.78 328.63,284.66 328.82,284.51 329.01,284.31 329.20,284.03 329.39,283.66 329.58,283.14 329.76,282.41 329.95,281.41 330.14,280.17 330.33,278.98 330.52,278.45 330.71,278.98 330.90,280.18 331.09,281.42 331.28,282.42 331.47,283.16 331.65,283.68 331.84,284.06 332.03,284.34 332.22,284.55 332.41,284.70 332.60,284.83 332.79,284.92 332.98,285.00 333.17,285.06 333.36,285.11 333.54,285.16 333.73,285.19 333.92,285.22 334.11,285.25 334.30,285.27 334.49,285.29 334.68,285.30 334.87,285.32 335.06,285.33 335.25,285.34 335.43,285.35 335.62,285.36 335.81,285.36 336.00,285.37 336.19,285.37 336.38,285.37 336.57,285.37 336.76,285.37 336.95,285.37 337.14,285.37 337.32,285.37 337.51,285.36 337.70,285.35 337.89,285.34 338.08,285.33 338.27,285.32 338.46,285.30 338.65,285.28 338.84,285.25 339.03,285.22 339.21,285.18 339.40,285.13 339.59,285.07 339.78,284.99 339.97,284.89 340.16,284.77 340.35,284.60 340.54,284.39 340.73,284.12 340.92,283.78 341.10,283.36 341.29,282.91 341.48,282.54 341.67,282.37 341.86,282.47 342.05,282.78 342.24,283.14 342.43,283.46 342.62,283.67 342.81,283.78 342.99,283.76 343.18,283.60 343.37,283.30 343.56,282.86 343.75,282.43 343.94,282.27 344.13,282.54 344.32,283.10 344.51,283.67 344.70,284.13 344.88,284.47 345.07,284.71 345.26,284.89 345.45,285.03 345.64,285.13 345.83,285.21 346.02,285.28 346.21,285.33 346.40,285.37 346.59,285.41 346.77,285.44 346.96,285.46 347.15,285.48 347.34,285.50 347.53,285.52 347.72,285.53 347.91,285.55 348.10,285.56 348.29,285.57 348.48,285.58 348.66,285.59 348.85,285.60 349.04,285.60 349.23,285.61 349.42,285.62 349.61,285.62 349.80,285.63 349.99,285.63 350.18,285.64 350.37,285.64 350.55,285.65 350.74,285.65 350.93,285.65 351.12,285.66 351.31,285.66 351.50,285.66 351.69,285.66 351.88,285.66 352.07,285.67 352.26,285.67 352.44,285.67 352.63,285.67 352.82,285.67 353.01,285.67 353.20,285.67 353.39,285.66 353.58,285.66 353.77,285.66 353.96,285.65 354.15,285.65 354.33,285.64 354.52,285.63 354.71,285.62 354.90,285.61 355.09,285.60 355.28,285.58 355.47,285.56 355.66,285.54 355.85,285.51 356.04,285.47 356.22,285.42 356.41,285.36 356.60,285.28 356.79,285.19 356.98,285.06 357.17,284.89 357.36,284.67 357.55,284.40 357.74,284.07 357.93,283.71 358.11,283.42 358.30,283.30 358.49,283.42 358.68,283.72 358.87,284.08 359.06,284.42 359.25,284.70 359.44,284.92 359.63,285.09 359.82,285.22 360.00,285.32 360.19,285.40 360.38,285.47 360.57,285.52 360.76,285.56 360.95,285.60 361.14,285.63 361.33,285.65 361.52,285.67 361.71,285.69 361.89,285.71 362.08,285.72 362.27,285.73 362.46,285.74 362.65,285.75 362.84,285.76 363.03,285.77 363.22,285.77 363.41,285.78 363.60,285.78 363.78,285.79 363.97,285.79 364.16,285.80 364.35,285.80 364.54,285.80 364.73,285.80 364.92,285.80 365.11,285.80 365.30,285.80 365.49,285.80 365.67,285.80 365.86,285.80 366.05,285.80 366.24,285.79 366.43,285.79 366.62,285.78 366.81,285.78 367.00,285.77 367.19,285.75 367.38,285.74 367.56,285.72 367.75,285.70 367.94,285.67 368.13,285.63 368.32,285.59 368.51,285.53 368.70,285.45 368.89,285.36 369.08,285.25 369.27,285.12 369.45,284.98 369.64,284.88 369.83,284.83 370.02,284.86 370.21,284.94 370.40,285.05 370.59,285.16 370.78,285.24 370.97,285.30 371.16,285.33 371.34,285.33 371.53,285.30 371.72,285.25 371.91,285.17 372.10,285.07 372.29,284.96 372.48,284.88 372.67,284.86 372.86,284.91 373.05,285.02 373.23,285.15 373.42,285.29 373.61,285.40 373.80,285.50 373.99,285.57 374.18,285.64 374.37,285.68 374.56,285.72 374.75,285.76 374.94,285.78 375.12,285.80 375.31,285.82 375.50,285.83 375.69,285.84 375.88,285.85 376.07,285.86 376.26,285.86 376.45,285.87 376.64,285.87 376.83,285.87 377.01,285.87 377.20,285.87 377.39,285.86 377.58,285.86 377.77,285.85 377.96,285.84 378.15,285.83 378.34,285.81 378.53,285.79 378.72,285.77 378.90,285.74 379.09,285.71 379.28,285.66 379.47,285.61 379.66,285.54 379.85,285.45 380.04,285.34 380.23,285.21 380.42,285.03 380.61,284.81 380.79,284.53 380.98,284.22 381.17,283.91 381.36,283.66 381.55,283.57 381.74,283.67 381.93,283.92 382.12,284.24 382.31,284.56 382.50,284.83 382.68,285.06 382.87,285.24 383.06,285.39 383.25,285.50 383.44,285.60 383.63,285.67 383.82,285.73 384.01,285.78 384.20,285.82 384.38,285.86 384.57,285.89 384.76,285.92 384.95,285.94 385.14,285.96 385.33,285.97 385.52,285.99 385.71,286.00 385.90,286.02 386.09,286.03 386.27,286.04 386.46,286.05 386.65,286.05 386.84,286.06 387.03,286.07 387.22,286.08 387.41,286.08 387.60,286.09 387.79,286.09 387.98,286.10 388.16,286.11 388.35,286.11 388.54,286.11 388.73,286.12 388.92,286.12 389.11,286.13 389.30,286.13 389.49,286.14 389.68,286.14 389.87,286.14 390.05,286.15 390.24,286.15 390.43,286.15 390.62,286.16 390.81,286.16 391.00,286.16" fill="none" stroke="#555" stroke-width="0.9" stroke-linejoin="round"/>
<text transform="translate(242.0,274.50) scale(0.885,1)" font-size="6.0" font-weight="bold" text-anchor="start" fill="#111">1%Ni/TiO<tspan font-size="4.3" dy="1.3">2</tspan><tspan dy="-1.3">-A-300</tspan></text>
<circle cx="287.62" cy="175.60" r="1.1" fill="#2a1810"/>
<circle cx="311.24" cy="193.00" r="1.1" fill="#2a1810"/>
<circle cx="321.07" cy="194.80" r="1.1" fill="#284a30"/>
<circle cx="324.09" cy="194.80" r="1.1" fill="#284a30"/>
<circle cx="330.52" cy="191.90" r="1.1" fill="#2a1810"/>
<polygon points="337.32,193.87 336.22,195.30 337.32,196.73 338.42,195.30" fill="#503080"/>
<circle cx="341.48" cy="194.30" r="1.1" fill="#2a1810"/>
<circle cx="344.13" cy="194.30" r="1.1" fill="#2a1810"/>
<circle cx="358.30" cy="194.50" r="1.1" fill="#2a1810"/>
<circle cx="369.45" cy="195.50" r="1.1" fill="#2a1810"/>
<circle cx="372.86" cy="195.50" r="1.1" fill="#2a1810"/>
<circle cx="381.55" cy="195.00" r="1.1" fill="#2a1810"/>
<circle cx="371.00" cy="171.30" r="1.35" fill="#2a1810"/>
<text x="377.00" y="173.30" font-size="5.1" font-weight="bold" text-anchor="start" fill="#111" >TiO<tspan font-size="3.8" dy="1.2">2</tspan><tspan dy="-1.2">-A</tspan></text>
<circle cx="371.00" cy="178.20" r="1.35" fill="#284a30"/>
<text x="377.00" y="180.20" font-size="5.1" font-weight="bold" text-anchor="start" fill="#111" >NiO</text>
<polygon points="371.00,183.35 369.65,185.10 371.00,186.86 372.35,185.10" fill="#503080"/>
<text x="377.00" y="187.10" font-size="5.1" font-weight="bold" text-anchor="start" fill="#111" >Ni</text>
</svg></body></html>
